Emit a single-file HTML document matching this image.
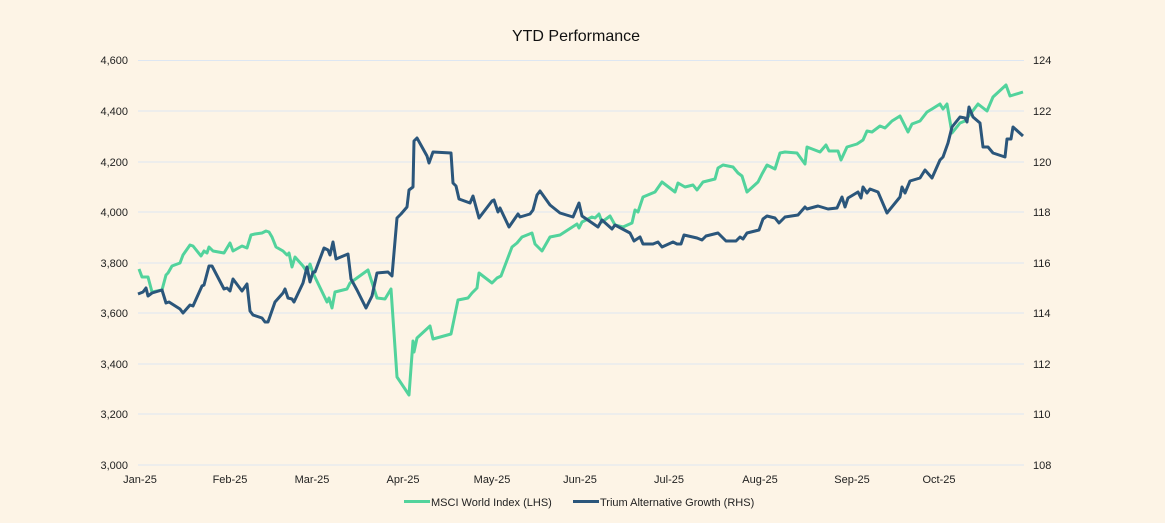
<!DOCTYPE html>
<html><head><meta charset="utf-8"><style>
html,body{margin:0;padding:0;background:#fdf4e6;}
svg{display:block;font-family:"Liberation Sans",sans-serif;}
</style></head><body>
<svg width="1165" height="523" viewBox="0 0 1165 523">
<rect width="1165" height="523" fill="#fdf4e6"/>
<text x="576" y="41" font-size="16" text-anchor="middle" fill="#111">YTD Performance</text>
<g stroke="#dde6f2" stroke-width="1">
<line x1="138" x2="1024" y1="60.5" y2="60.5"/>
<line x1="138" x2="1024" y1="111" y2="111"/>
<line x1="138" x2="1024" y1="162" y2="162"/>
<line x1="138" x2="1024" y1="212" y2="212"/>
<line x1="138" x2="1024" y1="263" y2="263"/>
<line x1="138" x2="1024" y1="313" y2="313"/>
<line x1="138" x2="1024" y1="364" y2="364"/>
<line x1="138" x2="1024" y1="414" y2="414"/>
<line x1="138" x2="1024" y1="465" y2="465"/>
</g>
<g font-size="11" fill="#222" text-anchor="end">
<text x="128" y="64">4,600</text><text x="128" y="115">4,400</text><text x="128" y="166">4,200</text><text x="128" y="216">4,000</text><text x="128" y="267">3,800</text><text x="128" y="317">3,600</text><text x="128" y="368">3,400</text><text x="128" y="418">3,200</text><text x="128" y="469">3,000</text>
</g>
<g font-size="11" fill="#222" text-anchor="start">
<text x="1033" y="64">124</text><text x="1033" y="115">122</text><text x="1033" y="166">120</text><text x="1033" y="216">118</text><text x="1033" y="267">116</text><text x="1033" y="317">114</text><text x="1033" y="368">112</text><text x="1033" y="418">110</text><text x="1033" y="469">108</text>
</g>
<g font-size="11" fill="#222" text-anchor="middle">
<text x="140" y="483">Jan-25</text><text x="230" y="483">Feb-25</text><text x="312" y="483">Mar-25</text><text x="403" y="483">Apr-25</text><text x="492" y="483">May-25</text><text x="580" y="483">Jun-25</text><text x="669" y="483">Jul-25</text><text x="760" y="483">Aug-25</text><text x="852" y="483">Sep-25</text><text x="939" y="483">Oct-25</text>
</g>
<polyline fill="none" stroke="#52d39c" stroke-width="3" stroke-linejoin="round" points="139,269 142,277 148,277 152,292 162,290 166,275 168,273 172,266 180,263 183,255 190,245 193,246 201,256 204,251 207,253 209,247 213,251 224,253 230,243 233,251 242,246 247,248 251,235 255,234 262,233 266,231 269,232 272,237 276,247 283,251 287,255 289,253 292,267 295,257 303,266 307,272 310,264 313,273 327,302 329,298 332,308 335,292 347,289 350,283 368,270 377,298 385,299 391,289 397,377 409,395 413,341 414,352 417,338 430,326 433,339 451,334 458,300 468,298 472,293 477,288 479,273 492,283 497,278 501,276 512,247 517,243 522,237 532,233 535,244 542,251 550,237 560,235 577,224 579,228 582,222 592,217 595,218 599,214 602,222 610,216 615,225 623,227 632,223 635,210 638,212 643,197 655,192 662,182 675,192 678,183 685,187 693,185 697,190 703,182 715,179 718,168 723,165 733,167 738,173 742,176 747,192 758,182 762,174 767,165 775,169 780,153 785,152 797,153 805,164 807,147 820,152 826,145 829,151 838,151 841,160 847,147 857,144 863,140 867,131 872,132 880,126 885,128 892,121 900,116 908,132 912,124 920,121 927,112 932,109 940,104 943,109 947,104 952,133 960,123 965,121 978,104 987,111 993,97 1006,85 1010,96 1023,92"/>
<polyline fill="none" stroke="#2b567b" stroke-width="3" stroke-linejoin="round" points="138,294 143,292 146,288 148,296 152,293 162,290 166,303 169,302 180,309 183,313 190,305 193,306 202,286 204,285 209,266 212,266 224,289 227,288 230,291 233,279 242,291 247,284 250,311 253,315 262,318 265,322 268,322 275,302 283,293 285,289 288,298 292,299 294,302 303,283 307,267 310,282 313,272 315,272 324,248 328,250 330,255 333,242 336,259 348,254 351,279 357,290 366,308 372,296 377,273 388,272 392,276 397,218 401,214 407,207 409,190 413,187 414,141 417,138 427,156 429,163 433,152 451,153 453,183 456,186 459,199 470,203 473,196 479,218 492,201 494,200 498,212 500,208 509,227 518,214 520,217 530,214 533,210 537,195 540,191 550,205 560,213 573,217 579,203 582,216 598,227 602,220 612,229 615,225 630,233 634,241 640,237 643,244 653,244 658,242 662,247 673,242 677,244 681,244 684,235 697,238 702,240 706,236 718,233 726,241 736,241 740,237 743,239 747,233 759,230 763,219 767,216 775,218 779,223 785,217 798,215 805,207 807,209 818,206 828,209 837,208 842,197 845,207 848,198 858,192 861,198 863,187 867,193 870,189 878,192 887,213 900,197 902,187 905,193 910,181 920,178 925,170 932,178 940,160 943,157 948,143 952,127 960,117 965,118 967,122 969,107 973,117 980,123 983,147 988,147 993,153 1005,157 1007,139 1011,139 1013,127 1023,136"/>
<rect x="404" y="500" width="26" height="3" fill="#52d39c"/>
<text x="431" y="506" font-size="11" fill="#222">MSCI World Index (LHS)</text>
<rect x="573" y="500" width="26" height="3" fill="#2b567b"/>
<text x="600" y="506" font-size="11" fill="#222">Trium Alternative Growth (RHS)</text>
</svg>
</body></html>
